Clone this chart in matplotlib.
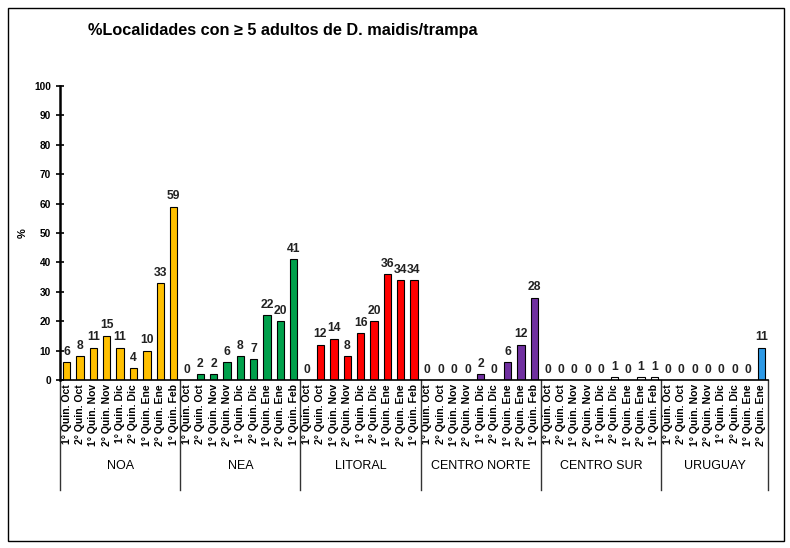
import matplotlib.pyplot as plt
import numpy as np

plt.rcParams['font.family'] = ['Liberation Sans', 'DejaVu Sans']

# data
regiones = ['NOA', 'NEA', 'LITORAL', 'CENTRO NORTE', 'CENTRO SUR', 'URUGUAY']
quincenas = ['1° Quin. Oct', '2° Quin. Oct', '1° Quin. Nov', '2° Quin. Nov',
             '1° Quin. Dic', '2° Quin. Dic', '1° Quin. Ene', '2° Quin. Ene',
             '1° Quin. Feb']
noa = [6, 8, 11, 15, 11, 4, 10, 33, 59]
nea = [0, 2, 2, 6, 8, 7, 22, 20, 41]
litoral = [0, 12, 14, 8, 16, 20, 36, 34, 34]
centro_norte = [0, 0, 0, 0, 2, 0, 6, 12, 28]
centro_sur = [0, 0, 0, 0, 0, 1, 0, 1, 1]
uruguay = [0, 0, 0, 0, 0, 0, 0, 11]

series = [noa, nea, litoral, centro_norte, centro_sur, uruguay]
colores = ['#FFC000', '#00A04B', '#FF0000', '#7030A0', '#FFFFFF', '#2E9AE6']

fig = plt.figure(figsize=(7.9, 5.48), dpi=100)
# outer frame
fig.patches.append(plt.Rectangle((8/790, 1 - 541/548), 776/790, 533/548,
                                 transform=fig.transFigure, fill=False,
                                 edgecolor='black', linewidth=1))
ax = fig.add_axes([60/790, 1 - 380/548, 708/790, 294/548])

labels = []
pos = 0
bordes = [-0.5]
for vals, col in zip(series, colores):
    x = np.arange(pos, pos + len(vals))
    ax.bar(x, vals, width=0.55, color=col, edgecolor='black', linewidth=0.8)
    for xi, v in zip(x, vals):
        ax.text(xi, v + 1.5, str(v), ha='center', va='bottom', fontsize=8.7,
                fontweight='bold', color='#222222')
    labels += quincenas[:len(vals)]
    pos += len(vals)
    bordes.append(pos - 0.5)

ax.set_xlim(-0.5, pos - 0.5)
ax.set_ylim(0, 100)
ax.set_yticks(range(0, 101, 10))
ax.set_xticks(range(pos))
ax.set_xticklabels(labels, rotation=90, fontsize=7.5, fontweight='bold')
ax.tick_params(axis='x', length=0, pad=3)
ax.tick_params(axis='y', direction='inout', length=6, width=1.2, labelsize=7.3)
for t in ax.get_yticklabels():
    t.set_fontweight('bold')
ax.spines['top'].set_visible(False)
ax.spines['right'].set_visible(False)
ax.spines['left'].set_linewidth(1.8)
ax.spines['bottom'].set_linewidth(1.2)

trans = ax.get_xaxis_transform()
for b in bordes:
    ax.plot([b, b], [0, -0.375], color='#333333', linewidth=1,
            transform=trans, clip_on=False)
for i, reg in enumerate(regiones):
    ax.text((bordes[i] + bordes[i + 1]) / 2, -0.293, reg, transform=trans,
            ha='center', va='center', fontsize=9)

ax.set_ylabel('%', fontsize=8, fontweight='bold')
ax.yaxis.set_label_coords(-32/708, 0.5)
fig.text(88/790, 1 - 31/548, '%Localidades con ≥ 5 adultos de D. maidis/trampa',
         fontsize=11.7, fontweight='bold', va='center', ha='left')

fig.savefig('out.png', dpi=100)
